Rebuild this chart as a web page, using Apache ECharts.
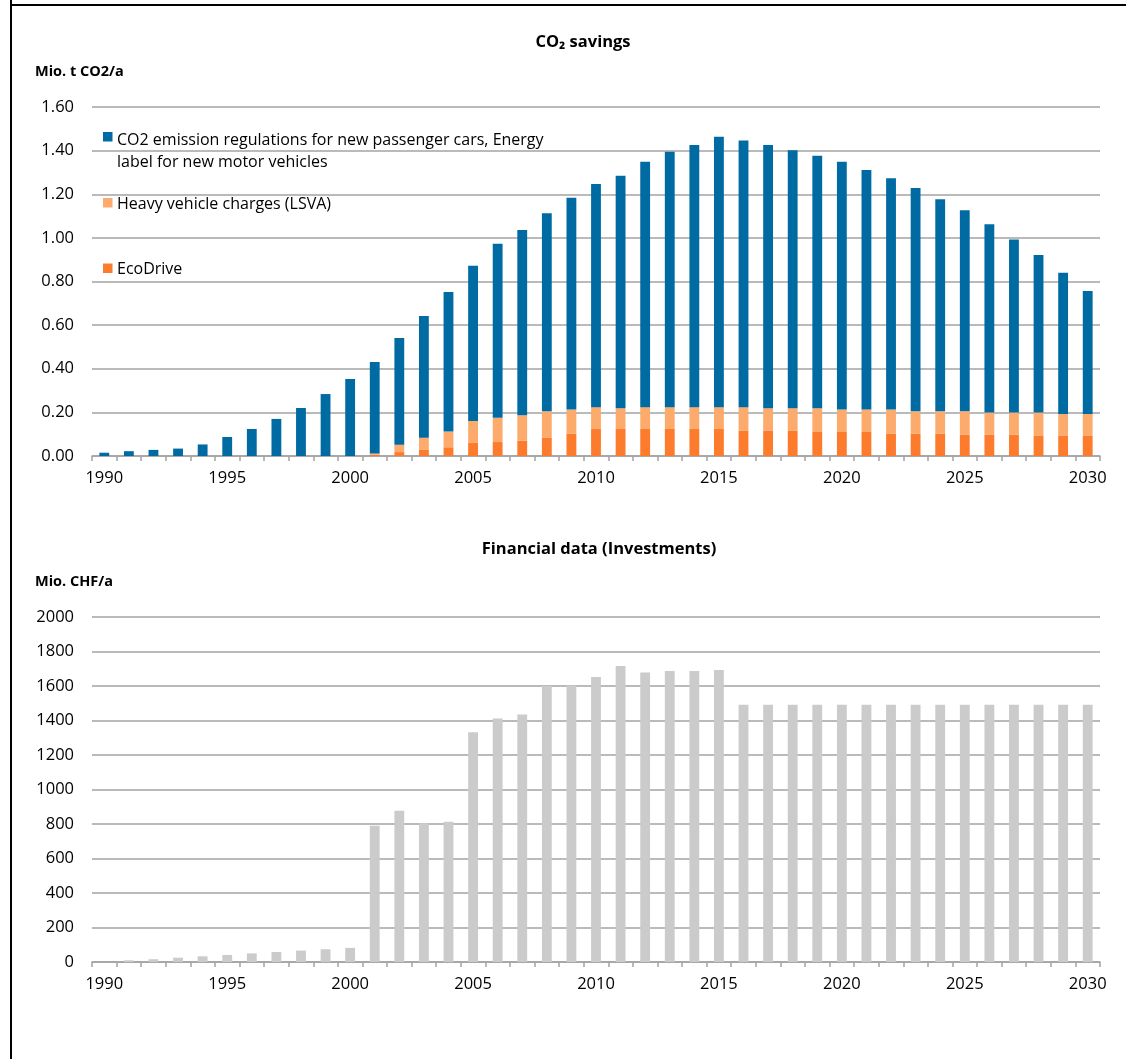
<!DOCTYPE html>
<html>
<head>
<meta charset="utf-8">
<title>CO2 savings and investments</title>
<script src="https://cdn.jsdelivr.net/npm/echarts@6/dist/echarts.min.js"></script>
<style>
  html, body { margin: 0; padding: 0; background: #fff; }
  #chart { width: 1126px; height: 1059px; }
</style>
</head>
<body>
<div id="chart"></div>
<script>
// Years on both category axes
const years = ['1990','1991','1992','1993','1994','1995','1996','1997','1998','1999',
  '2000','2001','2002','2003','2004','2005','2006','2007','2008','2009',
  '2010','2011','2012','2013','2014','2015','2016','2017','2018','2019',
  '2020','2021','2022','2023','2024','2025','2026','2027','2028','2029','2030'];

// CO2 savings, Mio. t CO2 per year (stacked)
const ecoDrive = [0,0,0,0,0,0,0,0,0,0,
  0,0.006,0.018,0.028,0.040,0.060,0.064,0.070,0.083,0.103,
  0.124,0.124,0.124,0.124,0.124,0.124,0.115,0.115,0.115,0.110,
  0.110,0.110,0.103,0.103,0.103,0.097,0.097,0.097,0.092,0.092,0.092];
const heavyVehicle = [0,0,0,0,0,0,0,0,0,0,
  0,0.006,0.034,0.056,0.072,0.101,0.111,0.117,0.122,0.110,
  0.100,0.095,0.100,0.100,0.100,0.100,0.109,0.104,0.104,0.109,
  0.103,0.103,0.110,0.102,0.102,0.108,0.102,0.102,0.107,0.101,0.101];
const carRegulations = [0.015,0.022,0.028,0.034,0.053,0.087,0.124,0.170,0.220,0.284,
  0.353,0.419,0.489,0.558,0.640,0.711,0.798,0.849,0.908,0.971,
  1.023,1.066,1.125,1.171,1.202,1.240,1.222,1.207,1.183,1.157,
  1.136,1.098,1.060,1.024,0.972,0.922,0.863,0.793,0.723,0.647,0.564];

// Investments, Mio. CHF per year
const investments = [0,10,16,25,33,41,50,58,66,74,
  82,790,877,804,813,1332,1412,1435,1600,1603,
  1652,1716,1678,1687,1687,1693,1491,1491,1491,1491,
  1491,1491,1491,1491,1491,1491,1491,1491,1491,1491,1491];

const seriesNames = ['EcoDrive', 'Heavy vehicle charges (LSVA)',
  'CO2 emission regulations for new passenger cars, Energy\nlabel for new motor vehicles'];
const colors = { reg: '#006ba3', lsva: '#fcab6c', eco: '#fd7b2c', invest: '#cbcbcb' };

const FONT = '"Open Sans", "DejaVu Sans", sans-serif';
const gridColor = '#a3a3a3';

function xAxisFor(gridIndex) {
  return {
    type: 'category', gridIndex, data: years, boundaryGap: true,
    axisLine: { lineStyle: { color: gridColor, width: 1.5 } },
    axisTick: { show: true, interval: 0, length: 5, lineStyle: { color: gridColor, width: 1.5 } },
    axisLabel: { interval: 4, color: '#000', fontFamily: FONT, fontSize: 16.5, margin: 13.5 },
    splitLine: { show: false }
  };
}
function yAxisFor(gridIndex, max, interval, digits) {
  return {
    type: 'value', gridIndex, min: 0, max, interval,
    axisLine: { show: false }, axisTick: { show: false },
    axisLabel: { color: '#000', fontFamily: FONT, fontSize: 16.5, margin: 18,
      formatter: v => v.toFixed(digits) },
    splitLine: { lineStyle: { color: gridColor, width: 1.5 } }
  };
}

const titleStyle = { fontSize: 16.5, fontWeight: 'bold', color: '#000', fontFamily: FONT };
const unitStyle = { fontSize: 14.5, fontWeight: 'bold', color: '#000', fontFamily: FONT };
const legendFont = '16px ' + FONT;

const chart = echarts.init(document.getElementById('chart'), null, { renderer: 'canvas' });
chart.setOption({
  animation: false,
  backgroundColor: '#fff',
  textStyle: { fontFamily: FONT },
  title: [
    { text: 'CO\u2082 savings', left: 583, top: 34, padding: 0, textAlign: 'center', textStyle: titleStyle },
    { text: 'Mio. t CO2/a', left: 35, top: 64, padding: 0, textStyle: unitStyle },
    { text: 'Financial data (Investments)', left: 599, top: 541, padding: 0, textAlign: 'center', textStyle: titleStyle },
    { text: 'Mio. CHF/a', left: 35, top: 574, padding: 0, textStyle: unitStyle }
  ],
  grid: [
    { left: 92, top: 107, width: 1008, height: 349 },
    { left: 92, top: 617, width: 1008, height: 345 }
  ],
  xAxis: [xAxisFor(0), xAxisFor(1)],
  yAxis: [yAxisFor(0, 1.6, 0.2, 2), yAxisFor(1, 2000, 200, 0)],
  series: [
    { name: seriesNames[0], type: 'bar', stack: 'co2', xAxisIndex: 0, yAxisIndex: 0,
      barWidth: '40%', data: ecoDrive, itemStyle: { color: colors.eco } },
    { name: seriesNames[1], type: 'bar', stack: 'co2', xAxisIndex: 0, yAxisIndex: 0,
      barWidth: '40%', data: heavyVehicle, itemStyle: { color: colors.lsva } },
    { name: seriesNames[2], type: 'bar', stack: 'co2', xAxisIndex: 0, yAxisIndex: 0,
      barWidth: '40%', data: carRegulations, itemStyle: { color: colors.reg } },
    { name: 'Investments', type: 'bar', xAxisIndex: 1, yAxisIndex: 1,
      barWidth: '40%', data: investments, itemStyle: { color: colors.invest } }
  ],
  graphic: [
    // outer frame (left and top edges)
    { type: 'line', shape: { x1: 11, y1: 0, x2: 11, y2: 1059 }, style: { stroke: '#000', lineWidth: 2 } },
    { type: 'line', shape: { x1: 11, y1: 5, x2: 1126, y2: 5 }, style: { stroke: '#000', lineWidth: 2 } },
    // legend of the savings chart
    { type: 'rect', shape: { x: 103, y: 132, width: 9.5, height: 9.5 }, style: { fill: colors.reg } },
    { type: 'text', left: 117, top: 129, style: { text: seriesNames[2], fill: '#000',
      font: legendFont, lineHeight: 22 } },
    { type: 'rect', shape: { x: 103, y: 198, width: 9.5, height: 9.5 }, style: { fill: colors.lsva } },
    { type: 'text', left: 117, top: 194, style: { text: seriesNames[1], fill: '#000',
      font: legendFont, lineHeight: 20 } },
    { type: 'rect', shape: { x: 103, y: 263.5, width: 9.5, height: 9.5 }, style: { fill: colors.eco } },
    { type: 'text', left: 117, top: 259, style: { text: seriesNames[0], fill: '#000',
      font: legendFont, lineHeight: 20 } }
  ]
});
</script>
</body>
</html>
